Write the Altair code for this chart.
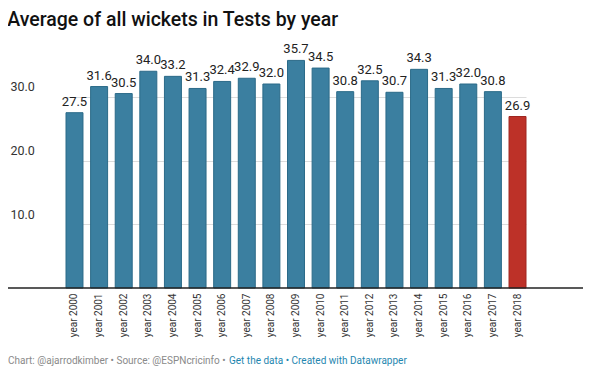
import altair as alt
import pandas as pd

years = ["year 2000", "year 2001", "year 2002", "year 2003", "year 2004", "year 2005",
         "year 2006", "year 2007", "year 2008", "year 2009", "year 2010", "year 2011",
         "year 2012", "year 2013", "year 2014", "year 2015", "year 2016", "year 2017",
         "year 2018"]
averages = [27.5, 31.6, 30.5, 34.0, 33.2, 31.3, 32.4, 32.9, 32.0, 35.7, 34.5, 30.8,
            32.5, 30.7, 34.3, 31.3, 32.0, 30.8, 26.9]
highlight = ["no"] * 18 + ["yes"]
y_ticks = [10, 20, 30]
footer_source = ["Chart: @ajarrodkimber • Source: @ESPNcricinfo •"]
footer_links = ["Get the data • Created with Datawrapper"]

df = pd.DataFrame({"year": years, "avg": averages, "hl": highlight})
df_foot = pd.DataFrame({"src": footer_source, "lnk": footer_links})

FONT = "Roboto"

x = alt.X("year:N", sort=years, title=None,
          scale=alt.Scale(range=[58, 518], paddingInner=0.31, paddingOuter=0),
          axis=alt.Axis(labelAngle=-90, ticks=False, labelPadding=5, labelFontSize=10,
                        labelColor="#333", labelFont=FONT, domain=False,
                        labelBaseline="middle", labelAlign="right"))
y = alt.Y("avg:Q", title=None,
          scale=alt.Scale(domain=[0, 40], nice=False),
          axis=alt.Axis(values=y_ticks, format=".1f", domain=False, ticks=False,
                        grid=True, gridColor="#dcdcdc", gridWidth=1,
                        labelAlign="left", labelBaseline="bottom", labelPadding=-2,
                        labelOffset=-3, labelFontSize=12.5, labelColor="#333",
                        labelFont=FONT))

bars = alt.Chart(df).mark_bar(strokeWidth=1).encode(
    x=x, y=y,
    color=alt.Color("hl:N", scale=alt.Scale(domain=["no", "yes"], range=["#3b7fa0", "#bd3128"]), legend=None),
    stroke=alt.Stroke("hl:N", scale=alt.Scale(domain=["no", "yes"], range=["#2b6a88", "#9e2620"]), legend=None),
)

labels = alt.Chart(df).mark_text(baseline="bottom", dy=-4, fontSize=13, color="#222", font=FONT).encode(
    x=alt.X("year:N", sort=years), y="avg:Q", text=alt.Text("avg:Q", format=".1f"))

baseline = alt.Chart(df_foot).mark_rule(color="#222", strokeWidth=1.5).encode(
    x=alt.value(0), x2=alt.value(575), y=alt.datum(0))

footer_gray = alt.Chart(df_foot).mark_text(align="left", baseline="middle", fontSize=10, color="#8a8a8a",
                                          font=FONT).encode(
    x=alt.value(0), y=alt.value(328), text="src:N")
footer_blue = alt.Chart(df_foot).mark_text(align="left", baseline="middle", fontSize=10, color="#1f87b0",
                                          font=FONT).encode(
    x=alt.value(221), y=alt.value(328), text="lnk:N")

chart = alt.layer(bars, labels, baseline, footer_gray, footer_blue).properties(
    width=575, height=255,
    title=alt.TitleParams("Average of all wickets in Tests by year", anchor="start",
                          fontSize=19.5, fontWeight=500, font=FONT, color="#111", offset=3),
    autosize=alt.AutoSizeParams(type="none"),
    padding={"left": 0, "top": 25, "right": 9, "bottom": 78},
).configure_view(stroke=None)

chart.save("out.html", embed_options={"renderer": "svg", "actions": False})
